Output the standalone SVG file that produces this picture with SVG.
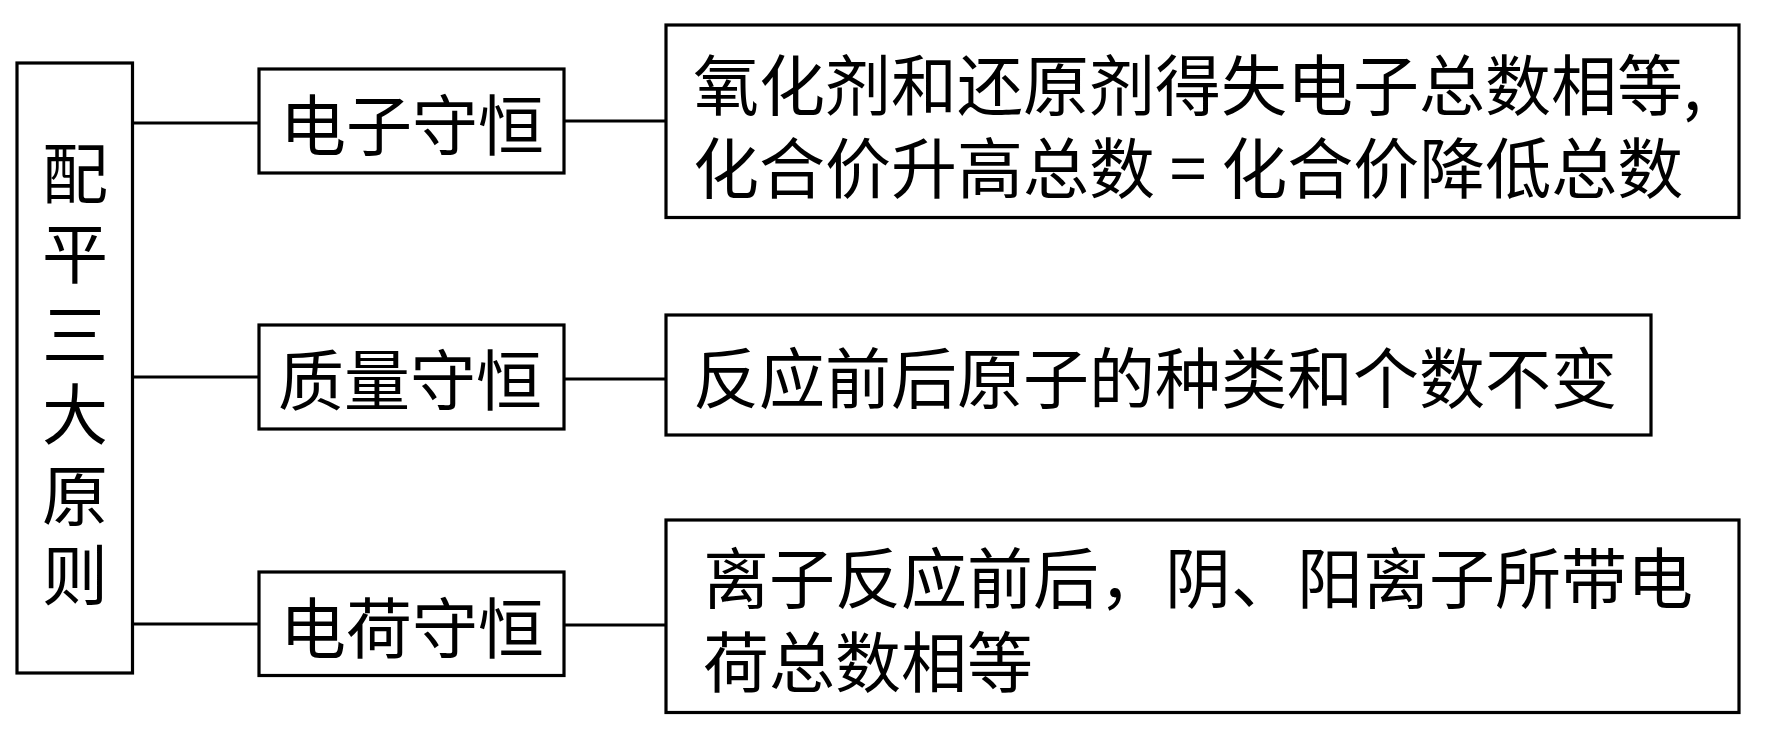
<svg xmlns="http://www.w3.org/2000/svg" width="1770" height="736" viewBox="0 0 1770 736">
<style>
.box{fill:#fff;stroke:#000;stroke-width:3.2}
.ln{stroke:#000;stroke-width:3.2;fill:none}
text{font-family:"Noto Sans CJK SC","Liberation Sans",sans-serif;font-size:66px;fill:#000}
.m{text-anchor:middle}
.v{writing-mode:vertical-rl;letter-spacing:14.4px}
</style>
<rect width="1770" height="736" fill="#fff"/>
<g id="connectors">
<line class="ln" x1="132" y1="123" x2="259" y2="123"/>
<line class="ln" x1="132" y1="377" x2="259" y2="377"/>
<line class="ln" x1="132" y1="624" x2="259" y2="624"/>
<line class="ln" x1="564" y1="121" x2="666" y2="121"/>
<line class="ln" x1="564" y1="379" x2="666" y2="379"/>
<line class="ln" x1="564" y1="625" x2="666" y2="625"/>
</g>
<g id="root">
<rect class="box" x="17" y="63" width="115.5" height="610"/>
<text class="v" x="75" y="140">配平三大原则</text>
</g>
<g id="electron">
<rect class="box" x="259" y="69" width="305" height="104"/>
<text class="m" x="412" y="150">电子守恒</text>
</g>
<g id="mass">
<rect class="box" x="259" y="325" width="305" height="104"/>
<text class="m" x="410" y="405">质量守恒</text>
</g>
<g id="charge">
<rect class="box" x="259" y="572" width="305" height="103.5"/>
<text class="m" x="412" y="653">电荷守恒</text>
</g>
<g id="electron-desc">
<rect class="box" x="666" y="25" width="1073" height="192.5"/>
<text x="693" y="110">氧化剂和还原剂得失电子总数相等,</text>
<text x="693" y="193">化合价升高总数 = 化合价降低总数</text>
</g>
<g id="mass-desc">
<rect class="box" x="666" y="315" width="985" height="120"/>
<text x="693" y="403">反应前后原子的种类和个数不变</text>
</g>
<g id="charge-desc">
<rect class="box" x="666" y="520" width="1073" height="192.5"/>
<text x="703" y="603">离子反应前后，阴、阳离子所带电</text>
<text x="703" y="687">荷总数相等</text>
</g>
</svg>
